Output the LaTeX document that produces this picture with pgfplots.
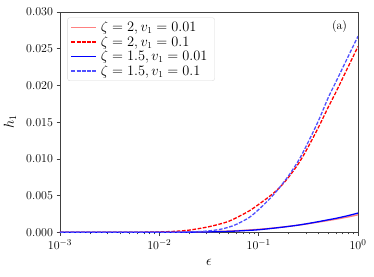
\documentclass[border=0pt]{standalone}
\usepackage{pgfplots}
\pgfplotsset{compat=1.18}
\definecolor{lred}{RGB}{255,128,128}
\definecolor{lblue}{RGB}{80,80,255}
\begin{document}
\begin{tikzpicture}
\begin{axis}[
  scale only axis,
  width=298pt, height=220.3pt,
  xmode=log,
  xmin=1e-3, xmax=1,
  ymin=0, ymax=0.03,
  ytick={0,0.005,0.01,0.015,0.02,0.025,0.03},
  scaled y ticks=false,
  yticklabel style={/pgf/number format/fixed,/pgf/number format/fixed zerofill,/pgf/number format/precision=3},
  tick label style={font=\fontsize{12.5}{14}\selectfont},
  tick align=outside,
  xtick pos=left, ytick pos=left,
  major tick length=3.5pt, minor tick length=2pt,
  axis line style={black!75, line width=0.8pt},
  every tick/.style={black!75, line width=0.6pt},
  xlabel={$\epsilon$},
  ylabel={$h_1$},
  label style={font=\fontsize{14}{16}\selectfont},
  xlabel style={at={(axis description cs:0.5,-0.135)}, anchor=center},
  ylabel style={at={(axis description cs:-0.168,0.5)}, anchor=center},
  legend cell align=left,
  legend style={at={(axis description cs:0.025,0.975)}, anchor=north west,
    draw=black!15, rounded corners=2pt, fill=white,
    font=\fontsize{13.5}{15}\selectfont, row sep=-1pt,
    inner xsep=3pt, inner ysep=2pt,
    nodes={inner xsep=4pt, inner ysep=2pt}},
  legend image code/.code={\draw[mark repeat=2,mark phase=2,#1] plot coordinates {(0pt,0pt) (12.5pt,0pt) (25pt,0pt)};},
]
\addplot[lred, line width=1.3pt, smooth] coordinates {
(0.001,0) (0.005,0.000001) (0.01,0.00001) (0.02,0.00004) (0.03,0.00008) (0.05,0.00017) (0.07,0.00027)
(0.1,0.00041) (0.15,0.00062) (0.2,0.00081) (0.25,0.00097) (0.3,0.00112) (0.4,0.00139)
(0.5,0.00160) (0.6,0.00178) (0.8,0.00210) (1.0,0.00238)};
\addlegendentry{$\zeta=2, v_1=0.01$}
\addplot[red, line width=1.3pt, dash pattern=on 3.7pt off 1.6pt, smooth] coordinates {
(0.001,0) (0.005,0.00001) (0.01,0.00005) (0.015,0.00015) (0.02,0.0003) (0.03,0.0007) (0.04,0.0011)
(0.05,0.0015) (0.06,0.0020) (0.08,0.0029) (0.1,0.0038) (0.13,0.00495) (0.16,0.0060)
(0.2,0.0075) (0.25,0.0093) (0.3,0.0111) (0.4,0.0143) (0.5,0.0170) (0.6,0.0191)
(0.8,0.0226) (1.0,0.0253)};
\addlegendentry{$\zeta=2, v_1=0.1$}
\addplot[blue, line width=1.3pt, smooth] coordinates {
(0.001,0) (0.01,0.000005) (0.02,0.00002) (0.03,0.00005) (0.05,0.00013) (0.07,0.00022)
(0.1,0.00035) (0.15,0.00060) (0.2,0.00080) (0.25,0.00098) (0.3,0.00115) (0.4,0.00145)
(0.5,0.00170) (0.6,0.00190) (0.8,0.00228) (1.0,0.00262)};
\addlegendentry{$\zeta=1.5, v_1=0.01$}
\addplot[lblue, line width=1.3pt, dash pattern=on 3.7pt off 1.6pt, smooth] coordinates {
(0.001,0) (0.005,0) (0.01,0.000005) (0.015,0.00002) (0.02,0.00005) (0.03,0.00017)
(0.04,0.00038) (0.05,0.0007) (0.06,0.0011) (0.08,0.0020) (0.1,0.0031) (0.13,0.0046)
(0.16,0.0060) (0.2,0.0077) (0.25,0.0097) (0.3,0.0117) (0.4,0.0152) (0.5,0.0183)
(0.6,0.0205) (0.8,0.0240) (1.0,0.0267)};
\addlegendentry{$\zeta=1.5, v_1=0.1$}
\node[font=\fontsize{12}{14}\selectfont] at (axis description cs:0.938,0.933) {(a)};
\end{axis}
\path[use as bounding box] (-60pt,-43.7pt) rectangle (314pt,232.3pt);
\end{tikzpicture}
\end{document}
